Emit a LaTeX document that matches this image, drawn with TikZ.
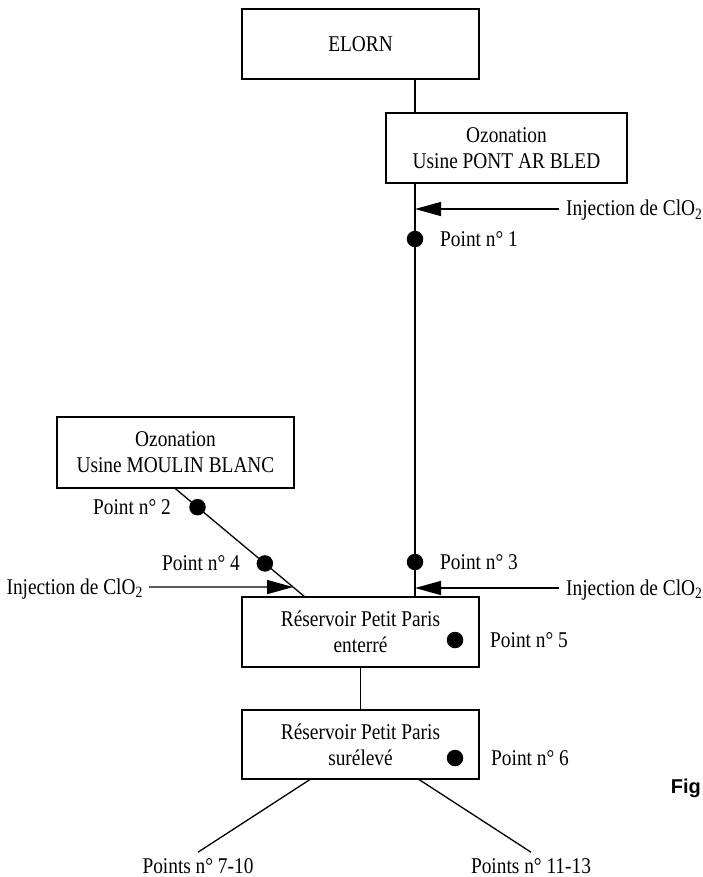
\documentclass[tikz,border=0pt]{standalone}
\usepackage{fontspec}
\setmainfont[FakeStretch=0.86]{Liberation Serif}
\newfontfamily\figfont{Liberation Sans}
\usetikzlibrary{arrows.meta,calc}
\begin{document}
\begin{tikzpicture}[x=1pt,y=-1pt,
  box/.style={draw,line width=1.5pt,minimum width=237pt,minimum height=70pt,align=center,inner sep=0pt,font=\fontsize{22.5}{26}\selectfont},
  lbl/.style={inner sep=0pt,font=\fontsize{22.5}{26}\selectfont},
  dot/.style={circle,fill,inner sep=0pt,minimum size=16.5pt},
  pipe/.style={line width=1.3pt},
  inj/.style={line width=1.3pt,-{Triangle[length=26pt,width=14pt]}}]
\useasboundingbox (0,0) rectangle (702,877);
% boxes
\node[box] (elorn) at (360.5,44) {ELORN};
\node[box,minimum width=241pt] (pab) at (506.5,148) {Ozonation\\Usine PONT AR BLED};
\node[box,minimum height=71pt] (moulin) at (175.5,452.5) {Ozonation\\Usine MOULIN BLANC};
\node[box] (enterre) at (360.5,632) {Réservoir Petit Paris\\enterré};
\node[box,minimum height=69pt] (sureleve) at (360.5,744.5) {Réservoir Petit Paris\\surélevé};
% main trunk
\coordinate (vx) at (415,0);
\draw[pipe] (elorn.south -| vx) -- (pab.north -| vx);
\draw[pipe] (pab.south -| vx) -- (enterre.north -| vx);
\node[dot] (p1) at (415,239) {};
\node[lbl,anchor=base west] (l1) at (440,246) {Point n° 1};
\node[dot] (p3) at (415,562) {};
\node[lbl,anchor=base west] (l3) at (440,569) {Point n° 3};
% injections right
\coordinate (i1) at (559,209);
\draw[inj] (i1) -- (i1 -| vx);
\node[lbl,anchor=base west] (t1) at (566,216) {Injection de ClO\textsubscript{2}};
\coordinate (i2) at (559,588);
\draw[inj] (i2) -- (i2 -| vx);
\node[lbl,anchor=base west] (t2) at (566,595) {Injection de ClO\textsubscript{2}};
% moulin blanc branch
\coordinate (dend) at (305,597);
\draw[pipe] (moulin.south) -- (dend);
\node[dot] (p2) at ($(moulin.south)!0.17!(dend)$) {};
\node[dot] (p4) at ($(moulin.south)!0.69!(dend)$) {};
\node[lbl,anchor=base east] (l2) at (171,514) {Point n° 2};
\node[lbl,anchor=base east] (l4) at (240,570) {Point n° 4};
\coordinate (i3) at (149,587);
\draw[inj] (i3) -- ($(moulin.south)!0.908!(dend)$);
\node[lbl,anchor=base east] (t3) at (143,594) {Injection de ClO\textsubscript{2}};
% reservoirs
\node[dot] (p5) at (455,640) {};
\node[lbl,anchor=base west] (l5) at (490,647) {Point n° 5};
\draw[pipe] (enterre) -- (sureleve);
\node[dot] (p6) at (455,758) {};
\node[lbl,anchor=base west] (l6) at (491,765) {Point n° 6};
% outlets
\node[lbl] (b1) at (198,866) {Points n° 7-10};
\node[lbl] (b2) at (531,866) {Points n° 11-13};
\coordinate (s1) at (310,779.5);
\coordinate (s2) at (419,779.5);
\draw[pipe] (s1) -- ([yshift=6pt]b1.north);
\draw[pipe] (s2) -- ([yshift=6pt]b2.north);
% caption fragment
\node[inner sep=0pt,anchor=base east,font=\fontsize{20}{24}\selectfont\figfont\bfseries] (fig) at (701,793) {Fig};
\end{tikzpicture}
\end{document}
